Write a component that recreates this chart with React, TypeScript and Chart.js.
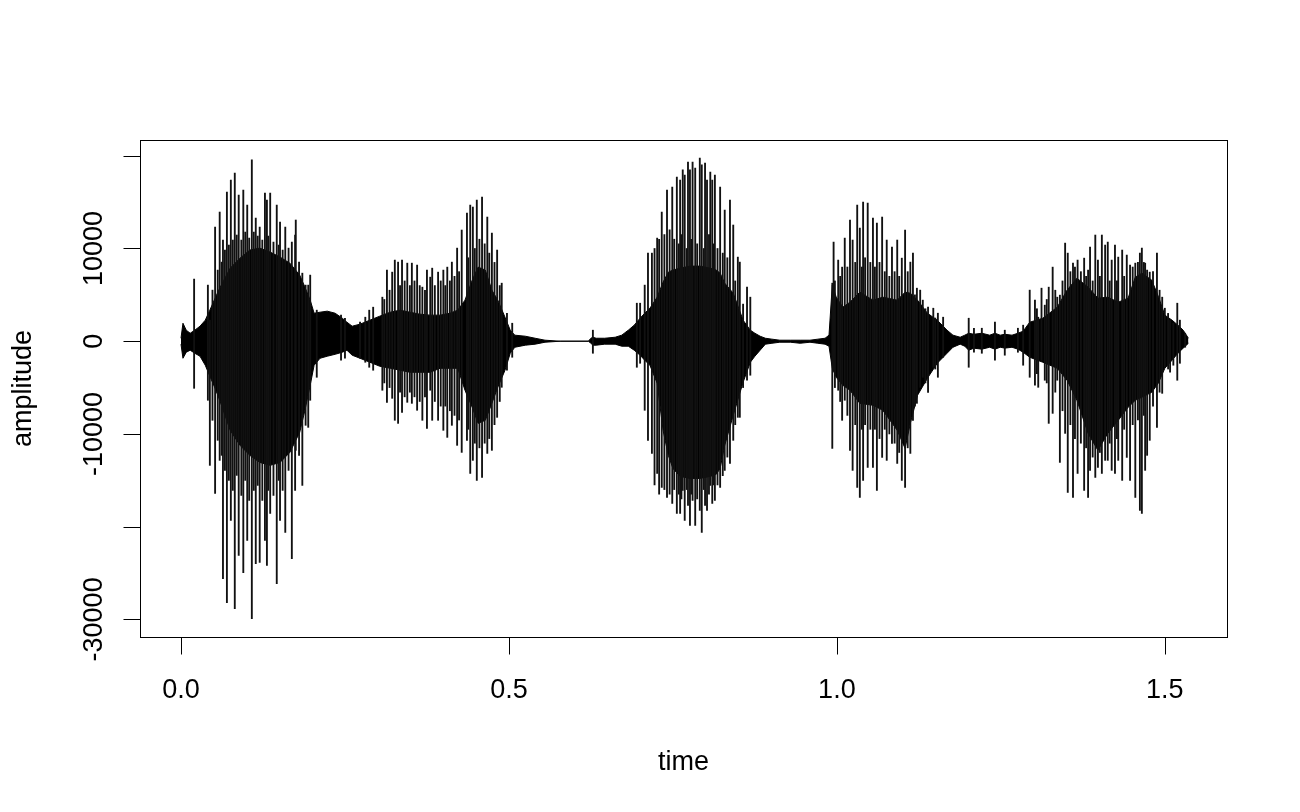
import React, { useEffect, useRef } from "react";
import { Chart, registerables } from "chart.js";

Chart.register(...registerables);

// ---- waveform dense core (inner envelope), seconds / amplitude ----
const coreTime = [
  0.000, 0.003, 0.008, 0.014, 0.021, 0.029, 0.037, 0.044, 0.052, 0.059,
  0.067, 0.075, 0.090, 0.105, 0.120, 0.136, 0.151, 0.166, 0.181, 0.189,
  0.197, 0.203, 0.212, 0.223, 0.235, 0.246, 0.253, 0.261, 0.273, 0.288,
  0.303, 0.319, 0.334, 0.349, 0.364, 0.380, 0.395, 0.410, 0.422, 0.433,
  0.444, 0.453, 0.464, 0.474, 0.483, 0.494, 0.502, 0.509, 0.525, 0.540,
  0.555, 0.578, 0.621, 0.625, 0.628, 0.633, 0.646, 0.662, 0.672, 0.682,
  0.691, 0.700, 0.707, 0.715, 0.726, 0.735, 0.743, 0.750, 0.761, 0.776,
  0.791, 0.807, 0.816, 0.822, 0.829, 0.842, 0.857, 0.868, 0.875, 0.883,
  0.891, 0.901, 0.913, 0.929, 0.944, 0.959, 0.971, 0.982, 0.988, 0.993,
  0.999, 1.009, 1.020, 1.035, 1.055, 1.070, 1.092, 1.104, 1.112, 1.123,
  1.138, 1.153, 1.168, 1.177, 1.188, 1.195, 1.201, 1.209, 1.221, 1.233,
  1.241, 1.249, 1.256, 1.267, 1.276, 1.284, 1.294, 1.314, 1.336, 1.351,
  1.366, 1.383, 1.398, 1.413, 1.429, 1.444, 1.455, 1.465, 1.480, 1.490,
  1.500, 1.511, 1.520, 1.528, 1.536,
];
const coreHigh = [
  320, 1940, 1190, 860, 1190, 1620, 2270, 3350, 4640, 5720,
  6800, 7880, 8960, 9830, 10040, 9610, 9070, 8420, 7130, 5830,
  4430, 3020, 3130, 3240, 3020, 2480, 2050, 1620, 1840, 2270,
  2700, 3130, 3350, 3130, 2920, 2810, 2810, 3020, 3350, 4430,
  6590, 7990, 7670, 5510, 4430, 2590, 1190, 650, 540, 320,
  110, 0, 0, 320, 430, 320, 320, 430, 650, 1190,
  1730, 2480, 3020, 3560, 4750, 6370, 7450, 7670, 7880, 8100,
  8100, 7880, 7670, 7340, 6260, 5180, 2270, 1190, 860, 540,
  320, 220, 110, 110, 110, 110, 220, 320, 650, 6050,
  4750, 3670, 4210, 5290, 4430, 4750, 4430, 5290, 5180, 4430,
  3020, 2270, 1190, 650, 430, 650, 860, 750, 860, 650,
  860, 650, 750, 650, 860, 1080, 2050, 2480, 3670, 5510,
  6800, 5830, 4640, 4750, 4210, 4640, 6910, 7340, 6590, 4860,
  2810, 2270, 1730, 1190, 320,
];
const coreLow = [
  -320, -1840, -1190, -970, -1300, -1620, -2590, -3780, -5080, -6370,
  -7990, -9610, -11230, -12310, -13070, -13390, -13070, -11990, -9830, -7450,
  -4750, -2590, -1840, -1620, -1410, -1190, -970, -1510, -1840, -2270,
  -2700, -2920, -3130, -3350, -3350, -3350, -2920, -2920, -2920, -5290,
  -7130, -8860, -8530, -6700, -4970, -3130, -1300, -650, -430, -320,
  -110, 0, 0, -220, -430, -430, -320, -320, -540, -540,
  -970, -1510, -2050, -2590, -4540, -9610, -12310, -13720, -14580, -14800,
  -14800, -14580, -14360, -13720, -11230, -7990, -4430, -2270, -1620, -970,
  -320, -220, -110, -110, -220, -110, -220, -320, -540, -2920,
  -3890, -4750, -5290, -6700, -6910, -7450, -9610, -11560, -8860, -5830,
  -4000, -2380, -1300, -650, -320, -540, -970, -750, -860, -650,
  -860, -650, -750, -650, -860, -1190, -1730, -2270, -2920, -4210,
  -6370, -9940, -11770, -9940, -8530, -7130, -6370, -6050, -5510, -4540,
  -2920, -2050, -1300, -750, -220,
];

// ---- main glottal-pulse spikes (one vertical line per spike, low..high) ----
const spikeTime = [
  // syllable 1
  0.020, 0.041, 0.044, 0.052, 0.059, 0.064, 0.070, 0.076, 0.082, 0.088,
  0.095, 0.101, 0.108, 0.114, 0.120, 0.128, 0.131, 0.136, 0.146, 0.151,
  0.159, 0.169, 0.174, 0.175, 0.185, 0.194, 0.197, 0.207,
  // syllable 2
  0.244, 0.250, 0.273, 0.281, 0.287, 0.293, 0.307, 0.314, 0.322, 0.326,
  0.331, 0.337, 0.345, 0.352, 0.360, 0.368, 0.375, 0.380, 0.383, 0.392,
  0.400, 0.406, 0.413, 0.421, 0.428, 0.436, 0.441, 0.445, 0.451, 0.459,
  0.467, 0.474, 0.482, 0.489, 0.497, 0.505,
  // blip in the pause
  0.628,
  // syllable 3
  0.695, 0.700, 0.707, 0.712, 0.718, 0.726, 0.733, 0.741, 0.749, 0.756,
  0.761, 0.765, 0.768, 0.773, 0.776, 0.780, 0.784, 0.791, 0.794, 0.799,
  0.802, 0.807, 0.810, 0.814, 0.822, 0.829, 0.837, 0.842, 0.849, 0.852,
  0.863, 0.868,
  // syllable 4
  0.993, 0.995, 1.002, 1.008, 1.012, 1.020, 1.024, 1.031, 1.035, 1.040,
  1.047, 1.055, 1.061, 1.069, 1.076, 1.084, 1.092, 1.099, 1.104, 1.112,
  1.116, 1.122, 1.127, 1.131, 1.139, 1.147, 1.154, 1.162,
  // noise between syllables 4 and 5
  1.201, 1.209, 1.221, 1.241, 1.256, 1.276, 1.284,
  // syllable 5
  1.294, 1.302, 1.307, 1.312, 1.317, 1.323, 1.329, 1.336, 1.340,
  1.348, 1.352, 1.360, 1.367, 1.377, 1.383, 1.386, 1.394, 1.398, 1.404,
  1.409, 1.413, 1.419, 1.424, 1.429, 1.435, 1.442, 1.447, 1.455, 1.462,
  1.465, 1.470, 1.473, 1.477, 1.488, 1.496, 1.500, 1.508, 1.513, 1.519,
  1.523, 1.531,
];
const spikeHigh = [
  // syllable 1
  6700, 6050, 2270, 12310, 13930, 10910, 16090, 17390, 18140, 15770,
  16310, 14690, 19550, 13280, 12310, 15980, 15230, 15980, 14690, 12850,
  12310, 10690, 11450, 13070, 7340, 6050, 7130, 3350,
  // syllable 2
  2810, 2480, 2050, 2590, 3350, 3670, 4750, 7670, 7450, 8750,
  8530, 8750, 8420, 8420, 8210, 5830, 7670, 6910, 7880, 7450,
  7670, 7990, 8530, 10040, 11990, 13820, 14690, 14470, 15230, 15550,
  13390, 11660, 9830, 6260, 3020, 1940,
  // blip
  1190,
  // syllable 3
  4100, 4100, 6050, 9500, 9500, 11120, 13930, 16310, 16630, 17710,
  17390, 18470, 17930, 19330, 18470, 19330, 18680, 19760, 19010, 19220,
  17390, 18250, 17390, 17930, 16630, 14150, 15230, 12530, 9070, 8530,
  5830, 4750,
  // syllable 4
  6260, 10690, 8750, 7990, 11120, 13070, 10910, 14690, 12200, 15010,
  14900, 13280, 12740, 13390, 10910, 10150, 10910, 8960, 11990, 8530,
  9500, 5720, 5510, 4430, 3670, 3560, 3020, 2590,
  // noise
  2480, 1400, 1400, 2050, 1190, 1400, 1730,
  // syllable 5
  5510, 4430, 2590, 5720, 3890, 5830, 7990, 4750, 4970,
  10580, 9500, 8420, 8750, 8960, 7670, 10150, 11450, 8750, 11450,
  10370, 10690, 8750, 10370, 9070, 9830, 9290, 8210, 8420, 9500,
  10040, 8420, 7670, 7450, 9500, 4750, 3560, 2270, 1940, 4100,
  2270, 860,
];
const spikeLow = [
  // syllable 1
  -5080, -6370, -13390, -16420, -12850, -25600, -28190, -19330, -28840, -23110,
  -24950, -21490, -29920, -23980, -23870, -21490, -24190, -18580, -26140, -19330,
  -20630, -23440, -16090, -11770, -15550, -9290, -6370, -3890,
  // syllable 2
  -2050, -1840, -1840, -2270, -2810, -3130, -5290, -6590, -6160, -8530,
  -8860, -7670, -6590, -6700, -7450, -8530, -9400, -5290, -8530, -8530,
  -9610, -10370, -9070, -11230, -11990, -10690, -14260, -12850, -15010, -14690,
  -12100, -11770, -8210, -4970, -3130, -1730,
  // blip
  -1300,
  // syllable 3
  -2810, -2380, -7450, -10690, -12100, -14260, -15770, -16850, -17500, -18580,
  -18580, -16090, -19330, -17710, -19870, -17170, -19870, -18250, -20630, -17710,
  -18250, -15550, -17500, -17170, -15770, -13930, -13180, -10690, -8210, -8210,
  -4210, -3670,
  // syllable 4
  -11560, -3130, -5290, -8530, -6370, -11770, -13930, -15770, -16850, -15010,
  -13610, -13610, -16090, -12530, -12850, -11020, -13180, -15010, -15770, -12100,
  -8530, -6700, -4970, -3890, -5510, -2810, -3890, -1730,
  // noise
  -2810, -1190, -1300, -2050, -1510, -1190, -2590,
  // syllable 5
  -3890, -4750, -4970, -2050, -4210, -8860, -7780, -4210, -13070,
  -9940, -16310, -16850, -14260, -16090, -16850, -13930, -14690, -13610, -14260,
  -12850, -12850, -13930, -14260, -12850, -15010, -12530, -15010, -16850, -18250,
  -18580, -13930, -12310, -10690, -9290, -5620, -2810, -3350, -2590, -4210,
  -2380, -650,
];

// ---- shorter in-between cycles that fray the edge of the dense core ----
const minorTime = [
  // syllable 1
  0.048, 0.056, 0.062, 0.067, 0.073, 0.079, 0.085, 0.092, 0.098, 0.104,
  0.111, 0.117, 0.124, 0.133, 0.141, 0.149, 0.155, 0.164, 0.180, 0.190,
  // syllable 2
  0.310, 0.318, 0.334, 0.341, 0.349, 0.356, 0.364, 0.372, 0.387, 0.396,
  0.403, 0.410, 0.417, 0.424, 0.438, 0.448, 0.455, 0.463, 0.470, 0.478,
  0.486,
  // syllable 3
  0.722, 0.729, 0.737, 0.745, 0.752, 0.759, 0.763, 0.771, 0.778, 0.787,
  0.797, 0.805, 0.812, 0.818, 0.826, 0.833, 0.845, 0.857,
  // syllable 4
  0.997, 1.005, 1.016, 1.028, 1.038, 1.043, 1.051, 1.058, 1.065, 1.073,
  1.080, 1.088, 1.095, 1.108, 1.119, 1.135, 1.150,
  // syllable 5
  1.305, 1.320, 1.333, 1.344, 1.356, 1.363, 1.372, 1.380, 1.390, 1.401,
  1.416, 1.427, 1.438, 1.451, 1.459, 1.468, 1.482, 1.492, 1.505,
];
const minorHigh = [
  // syllable 1
  5510, 7670, 8530, 9830, 10370, 10910, 11450, 10910, 11770, 11120,
  11770, 11340, 10910, 11340, 10690, 10370, 9830, 10040, 8530, 6050,
  // syllable 2
  4500, 5500, 6000, 6500, 6000, 6500, 6000, 5500, 6000, 6500,
  6000, 6500, 7000, 7500, 9000, 10000, 11000, 10500, 9500, 8500,
  6000,
  // syllable 3
  10000, 11000, 11500, 12000, 11000, 10500, 11500, 10000, 11000, 10500,
  10000, 11500, 10500, 10000, 9500, 9000, 6500, 4000,
  // syllable 4
  6500, 7000, 8000, 8500, 8000, 9000, 8500, 8000, 8500, 7500,
  7000, 7500, 7000, 7500, 5000, 3500, 2500,
  // syllable 5
  3500, 4500, 5500, 6500, 7500, 8000, 7500, 7000, 6500, 7000,
  6500, 6500, 7000, 8000, 8500, 8500, 7500, 5500, 3000,
];
const minorLow = [
  // syllable 1
  -8530, -10690, -12310, -13930, -15010, -16090, -14470, -16630, -15010, -17170,
  -16090, -15550, -17170, -16090, -16630, -15010, -16090, -13930, -12310, -9070,
  // syllable 2
  -4500, -5000, -5500, -6000, -5500, -6000, -6500, -6000, -6500, -7000,
  -7000, -7500, -8000, -8500, -9500, -11000, -11500, -11000, -10500, -9000,
  -6500,
  // syllable 3
  -15500, -16500, -16000, -16500, -16000, -16500, -17000, -16000, -16500, -17000,
  -16000, -16500, -15500, -15500, -14500, -12500, -9000, -5000,
  // syllable 4
  -5000, -6500, -8000, -9000, -9500, -9000, -9500, -9500, -10500, -9500,
  -10000, -11000, -12000, -11500, -7000, -4500, -3000,
  // syllable 5
  -3500, -4500, -5500, -7500, -9000, -10500, -11000, -11500, -12500, -12000,
  -11000, -10500, -9500, -9000, -8500, -8000, -7000, -5500, -3000,
];

// ---- axes ----
const xTicks = [0, 0.5, 1.0, 1.5];
const xTickLabels = ["0.0", "0.5", "1.0", "1.5"];
const yTicks = [-30000, -20000, -10000, 0, 10000, 20000];
const yTickLabels = ["-30000", "", "-10000", "0", "10000", ""];
const xTitle = "time";
const yTitle = "amplitude";
const xRange = [-0.0625, 1.5948];
const yRange = [-31900, 21700];

const FONT = '27px "Liberation Sans", Arial, sans-serif';

const rAxesPlugin = {
  id: "rAxes",
  afterDraw(chart: any) {
    const { ctx, chartArea: a, scales } = chart;
    const xs = scales.x;
    const ys = scales.y;
    ctx.save();
    ctx.strokeStyle = "#000";
    ctx.fillStyle = "#000";
    ctx.lineWidth = 1;
    ctx.strokeRect(a.left + 0.5, a.top + 0.5, a.right - a.left, a.bottom - a.top);

    const xb = Math.round(a.bottom) + 0.5;
    const tickLen = 17;
    ctx.beginPath();
    const xa = Math.round(xs.getPixelForValue(xTicks[0])) + 0.5;
    const xz = Math.round(xs.getPixelForValue(xTicks[xTicks.length - 1])) + 0.5;
    ctx.moveTo(xa, xb);
    ctx.lineTo(xz, xb);
    xTicks.forEach((v) => {
      const px = Math.round(xs.getPixelForValue(v)) + 0.5;
      ctx.moveTo(px, xb);
      ctx.lineTo(px, xb + tickLen);
    });
    ctx.stroke();
    ctx.font = FONT;
    ctx.textAlign = "center";
    ctx.textBaseline = "alphabetic";
    xTicks.forEach((v, i) => {
      ctx.fillText(xTickLabels[i], xs.getPixelForValue(v), a.bottom + 61);
    });
    ctx.fillText(xTitle, (a.left + a.right) / 2, a.bottom + 133);

    const yl = Math.round(a.left) + 0.5;
    ctx.beginPath();
    const ya = Math.round(ys.getPixelForValue(yTicks[0])) + 0.5;
    const yz = Math.round(ys.getPixelForValue(yTicks[yTicks.length - 1])) + 0.5;
    ctx.moveTo(yl, ya);
    ctx.lineTo(yl, yz);
    yTicks.forEach((v) => {
      const py = Math.round(ys.getPixelForValue(v)) + 0.5;
      ctx.moveTo(yl, py);
      ctx.lineTo(yl - tickLen, py);
    });
    ctx.stroke();
    yTicks.forEach((v, i) => {
      if (!yTickLabels[i]) return;
      ctx.save();
      ctx.translate(a.left - 38, ys.getPixelForValue(v));
      ctx.rotate(-Math.PI / 2);
      ctx.fillText(yTickLabels[i], 0, 0);
      ctx.restore();
    });
    ctx.save();
    ctx.translate(a.left - 109, (a.top + a.bottom) / 2);
    ctx.rotate(-Math.PI / 2);
    ctx.fillText(yTitle, 0, 0);
    ctx.restore();
    ctx.restore();
  },
};

export default function App() {
  const ref = useRef<HTMLCanvasElement>(null);
  useEffect(() => {
    const canvas = ref.current;
    if (!canvas) return;
    const coreHiData = coreTime.map((t, i) => ({ x: t, y: coreHigh[i] }));
    const coreLoData = coreTime.map((t, i) => ({ x: t, y: coreLow[i] }));
    const spikeData = spikeTime.map((t, i) => ({ x: t, y: [spikeLow[i], spikeHigh[i]] }));
    const minorData = minorTime.map((t, i) => ({ x: t, y: [minorLow[i], minorHigh[i]] }));
    const chart = new Chart(canvas, {
      type: "bar",
      data: {
        datasets: [
          {
            type: "bar",
            data: spikeData as any,
            backgroundColor: "#111",
            borderWidth: 0,
            barThickness: 1.2,
            grouped: false,
            order: 0,
          } as any,
          {
            type: "bar",
            data: minorData as any,
            backgroundColor: "#111",
            borderWidth: 0,
            barThickness: 1.2,
            grouped: false,
            order: 0,
          } as any,
          {
            type: "line",
            data: coreHiData,
            borderColor: "#000",
            backgroundColor: "#000",
            borderWidth: 1,
            pointRadius: 0,
            fill: "+1",
            tension: 0,
            order: 1,
          } as any,
          {
            type: "line",
            data: coreLoData,
            borderColor: "#000",
            backgroundColor: "#000",
            borderWidth: 1,
            pointRadius: 0,
            fill: false,
            tension: 0,
            order: 1,
          } as any,
        ],
      },
      options: {
        animation: false,
        responsive: false,
        devicePixelRatio: 1,
        events: [],
        layout: { padding: { left: 140, right: 73, top: 140, bottom: 175 } },
        plugins: { legend: { display: false }, tooltip: { enabled: false } },
        scales: {
          x: { type: "linear", min: xRange[0], max: xRange[1], display: false, offset: false, grid: { display: false } },
          y: { type: "linear", min: yRange[0], max: yRange[1], display: false, grid: { display: false } },
        },
      } as any,
      plugins: [rAxesPlugin],
    });
    return () => chart.destroy();
  }, []);
  return (
    <div style={{ position: "absolute", left: 0, top: 0, width: 1300, height: 812, background: "#fff" }}>
      <canvas ref={ref} width={1300} height={812} style={{ display: "block", width: 1300, height: 812 }} />
    </div>
  );
}
